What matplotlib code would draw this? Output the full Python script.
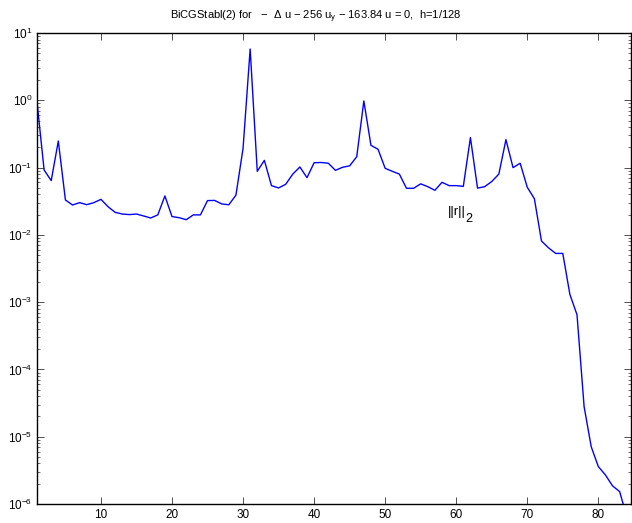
import matplotlib
matplotlib.use("Agg")
import matplotlib.pyplot as plt
import numpy as np
from matplotlib.ticker import LogLocator, NullFormatter

plt.rcParams['font.family'] = ['Liberation Sans', 'DejaVu Sans']
plt.rcParams['mathtext.fontset'] = 'custom'
plt.rcParams['mathtext.rm'] = 'Liberation Sans'
plt.rcParams['mathtext.it'] = 'Liberation Sans'
plt.rcParams['mathtext.default'] = 'regular'

# residual norm per iteration
residual = [
    0.95, 0.092, 0.064, 0.248, 0.033, 0.0278, 0.0301, 0.0281, 0.0301, 0.0337,
    0.0262, 0.0216, 0.0204, 0.0200, 0.0204, 0.0191, 0.0178, 0.0198, 0.0379, 0.0187,
    0.0180, 0.0168, 0.0198, 0.0198, 0.0323, 0.0325, 0.0288, 0.0280, 0.039, 0.193,
    5.78, 0.088, 0.128, 0.0539, 0.0498, 0.0564, 0.080, 0.102, 0.0708, 0.118,
    0.119, 0.116, 0.091, 0.101, 0.106, 0.145, 0.977, 0.214, 0.187, 0.0975,
    0.088, 0.080, 0.0492, 0.0492, 0.0573, 0.052, 0.0459, 0.0604, 0.0539, 0.0539,
    0.0526, 0.279, 0.0495, 0.052, 0.062, 0.080, 0.26, 0.0998, 0.116, 0.051,
    0.0345, 0.0081, 0.0064, 0.0053, 0.0053, 0.0013, 0.00065, 2.8e-5, 7.1e-6, 3.6e-6,
    2.7e-6, 1.86e-6, 1.53e-6, 6.5e-7,
]
iters = np.arange(1, len(residual) + 1)

fig = plt.figure(figsize=(6.32, 5.23), dpi=100)
ax = fig.add_axes([37 / 632, 19 / 523, 594 / 632, 471 / 523])

ax.semilogy(iters, residual, color='#0000ff', linewidth=1.0)

ax.set_xlim(1, 84.6)
ax.set_ylim(1e-6, 10)
ax.set_xticks([10, 20, 30, 40, 50, 60, 70, 80])
ax.yaxis.set_major_locator(LogLocator(base=10, numticks=10))
ax.yaxis.set_minor_locator(LogLocator(base=10, subs=np.arange(2, 10), numticks=20))
ax.yaxis.set_minor_formatter(NullFormatter())

ax.tick_params(which='both', direction='in', top=True, right=True, labelsize=8.5,
               color='#333333')
ax.tick_params(which='major', length=5, width=0.6)
ax.tick_params(which='minor', length=2.5, width=0.5)
for s in ax.spines.values():
    s.set_linewidth(1.0)

# curve label ||r||_2 with a full-size lowered subscript
ax.annotate('||r||', xy=(58.8, 0.0215), fontsize=9.5, ha='left', va='center')
ax.annotate('2', xy=(58.8, 0.0215), xytext=(12.5, -4.5), textcoords='offset points',
            fontsize=9, ha='left', va='center')

ax.set_title(r'BiCGStabl(2) for   $-$  $\Delta$ u $-$ 256 u$_y$ $-$ 163.84 u = 0,  h=1/128',
             fontsize=8, pad=10, x=0.469)

fig.savefig('out.png', dpi=100)
